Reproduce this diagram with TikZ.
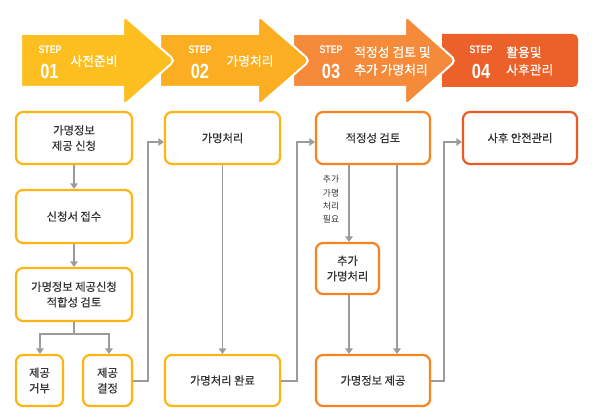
\documentclass[tikz,border=0pt]{standalone}
\usepackage{fontspec}
\setmainfont{Noto Sans CJK KR}
\newfontfamily\boxfont[FakeBold=0.6]{Noto Sans CJK KR}
\newfontfamily\headfont[FakeBold=0.8]{Noto Sans CJK KR}
\newfontfamily\stepfont[FakeStretch=0.8]{Liberation Sans}
\usetikzlibrary{arrows.meta}
\definecolor{aone}{HTML}{FDBF1F}
\definecolor{atwo}{HTML}{FBAE22}
\definecolor{athree}{HTML}{F58A3A}
\definecolor{afour}{HTML}{EB6129}
\definecolor{byel}{HTML}{FDB515}
\definecolor{bora}{HTML}{F7821E}
\definecolor{bred}{HTML}{EA5A24}
\definecolor{lgray}{HTML}{9B9B9B}
\definecolor{tdark}{HTML}{333333}
\begin{document}
\begin{tikzpicture}[x=1pt,y=-1pt,
  box/.style={draw=byel, line width=2.2pt, rounded corners=7pt, fill=white,
    text=tdark, align=center, inner sep=2pt,
    font=\boxfont\fontsize{11.3}{15.5}\selectfont},
  obox/.style={box, draw=bora},
  rbox/.style={box, draw=bred},
  conn/.style={draw=lgray, line width=1.3pt, -{Triangle[width=7.5pt,length=5.5pt]}},
  steplbl/.style={text=white, font=\stepfont\bfseries\fontsize{11}{11}\selectfont, inner sep=0pt},
  stepnum/.style={text=white, font=\stepfont\bfseries\fontsize{20.5}{21}\selectfont, inner sep=0pt},
  steptxt/.style={text=white, font=\headfont\fontsize{12.8}{17.5}\selectfont, inner sep=0pt, align=left},
  smalllbl/.style={text=tdark, font=\fontsize{8.8}{13.3}\selectfont, align=center, inner sep=0pt}
]
\useasboundingbox (0,0) rectangle (595,420);

% header arrows (drawn back to front)
\fill[afour, rounded corners=5pt] (442,34) -- (578,34) -- (578,87) -- (442,87) [sharp corners] -- cycle;
\fill[afour] (442,34) rectangle (460,87);
\filldraw[athree, draw=white, line width=2pt] (293,34) -- (405,34) {[rounded corners=5pt] -- (405,15) -- (456,60.5) -- (405,106)} -- (405,87) -- (293,87) -- cycle;
\filldraw[atwo, draw=white, line width=2pt] (160,34) -- (258,34) {[rounded corners=5pt] -- (258,15) -- (310,60.5) -- (258,106)} -- (258,87) -- (160,87) -- cycle;
\filldraw[aone, draw=white, line width=2pt] (21,34) -- (123,34) {[rounded corners=5pt] -- (123,15) -- (175,60.5) -- (123,106)} -- (123,87) -- (21,87) -- cycle;

\node[steplbl] (s1) at (50,49.5) {STEP};
\node[stepnum] (n1) at (49.5,71) {01};
\node[steptxt] (t1) at (94,61) {사전준비};
\node[steplbl] (s2) at (200,49.5) {STEP};
\node[stepnum] (n2) at (200,71) {02};
\node[steptxt] (t2) at (250,61) {가명처리};
\node[steplbl] (s3) at (331,49.5) {STEP};
\node[stepnum] (n3) at (331,71) {03};
\node[steptxt, anchor=west] (t3) at (354,61) {적정성 검토 및\\추가 가명처리};
\node[steplbl] (s4) at (481,49.5) {STEP};
\node[stepnum] (n4) at (481,71) {04};
\node[steptxt, anchor=west] (t4) at (506,61) {활용및\\사후관리};

% boxes
\node[box, minimum width=116pt, minimum height=52pt] (a) at (74,138) {가명정보\\제공 신청};
\node[box, minimum width=116pt, minimum height=53pt] (b) at (74,216.5) {신청서 접수};
\node[box, minimum width=116pt, minimum height=53pt] (c) at (74,294.5) {가명정보 제공신청\\적합성 검토};
\node[box, minimum width=47pt, minimum height=51pt] (d) at (39.5,380.5) {제공\\거부};
\node[box, minimum width=49pt, minimum height=51pt] (e) at (107.5,380.5) {제공\\결정};
\node[box, minimum width=115pt, minimum height=52pt] (f) at (222.5,138) {가명처리};
\node[box, minimum width=115pt, minimum height=51pt] (g) at (222.5,380.5) {가명처리 완료};
\node[obox, minimum width=114pt, minimum height=52pt] (h) at (373,138) {적정성 검토};
\node[obox, minimum width=63pt, minimum height=51pt] (i) at (347.5,268.5) {추가\\가명처리};
\node[obox, minimum width=114pt, minimum height=51pt] (j) at (373,380.5) {가명정보 제공};
\node[rbox, minimum width=114pt, minimum height=52pt] (k) at (520,138) {사후 안전관리};

\coordinate (split) at (74,334);
\coordinate (ek) at (148,381);
\coordinate (gk) at (297,381);
\coordinate (jk) at (444,381);

% connectors
\draw[conn] (a) -- (b);
\draw[conn] (b) -- (c);
\draw[draw=lgray, line width=1.3pt] (c.south) -- (split);
\draw[conn] (split) -| (d.north -| 40,0);
\draw[conn] (split) -| (e.north -| 109,0);
\draw[conn] (e.east |- ek) -- (ek) |- (f.west |- 0,142);
\draw[conn] (f) -- (g);
\draw[conn] (g.east |- gk) -- (gk) |- (h.west |- 0,142);
\draw[conn] (h.south -| 349,0) -- (i.north -| 349,0);
\draw[conn] (i.south -| 349,0) -- (j.north -| 349,0);
\draw[conn] (h.south -| 397,0) -- (j.north -| 397,0);
\draw[conn] (j.east |- jk) -- (jk) |- (k.west |- 0,142);

\node[smalllbl] (lbl) at (331,199.5) {추가\\가명\\처리\\필요};
\end{tikzpicture}
\end{document}
